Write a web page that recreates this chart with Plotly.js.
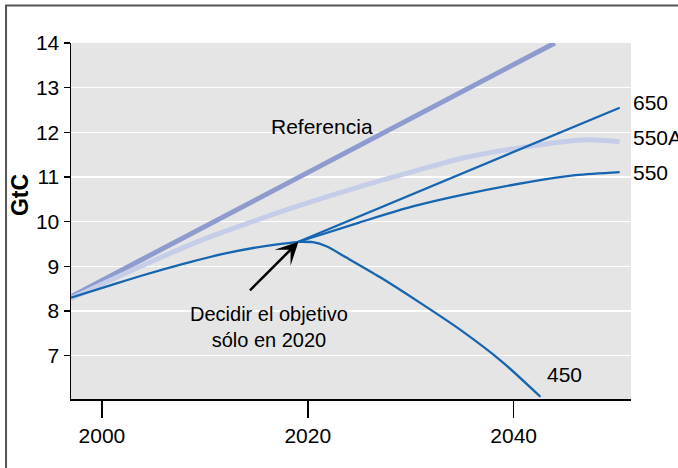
<!DOCTYPE html>
<html>
<head>
<meta charset="utf-8">
<script src="https://cdn.plot.ly/plotly-3.0.1.min.js"></script>
<style>
html,body{margin:0;padding:0;background:#fff;}
#chart{width:678px;height:468px;}
</style>
</head>
<body>
<div id="chart"></div>
<script>
// ---- data ----
const refYears = [1997, 2044];
const refVals = [8.32, 14.0];

const a550Years = [1997, 2003, 2009.5, 2014, 2019.3, 2025, 2030.2, 2035, 2041.3, 2046.7, 2050.3];
const a550Vals  = [8.28, 8.92, 9.57, 9.95, 10.37, 10.78, 11.12, 11.42, 11.68, 11.83, 11.79];

const commonYears = [1997, 2000.5, 2004, 2008, 2012, 2016, 2019.1];
const commonVals  = [8.30, 8.55, 8.80, 9.06, 9.29, 9.46, 9.55];

const p650Years = [2019.1, 2050.3];
const p650Vals  = [9.55, 12.55];

const p550Years = [2019.1, 2025, 2030.2, 2035, 2041.3, 2046, 2050.3];
const p550Vals  = [9.55, 9.98, 10.34, 10.60, 10.88, 11.04, 11.11];

const p450Years = [2019.1, 2020.5, 2021.8, 2023.8, 2027, 2031, 2035, 2038.8, 2042.6];
const p450Vals  = [9.55, 9.54, 9.45, 9.19, 8.76, 8.17, 7.55, 6.88, 6.08];

const xTicks = [2000, 2020, 2040];
const yTicks = [7, 8, 9, 10, 11, 12, 13, 14];

const junction = {year: 2019.1, val: 9.55};

// ---- styling ----
const FONT = "Liberation Sans, Arial, Helvetica, sans-serif";
const BLUE = "#1565b0";

const traces = [
  {x: refYears, y: refVals, mode: "lines", line: {color: "#8e9bcf", width: 5}, hoverinfo: "skip"},
  {x: a550Years, y: a550Vals, mode: "lines", line: {color: "#c6cde8", width: 5, shape: "spline", smoothing: 0.8}, hoverinfo: "skip"},
  {x: commonYears, y: commonVals, mode: "lines", line: {color: BLUE, width: 2.3, shape: "spline", smoothing: 0.8}, hoverinfo: "skip"},
  {x: p650Years, y: p650Vals, mode: "lines", line: {color: BLUE, width: 2.3}, hoverinfo: "skip"},
  {x: p550Years, y: p550Vals, mode: "lines", line: {color: BLUE, width: 2.3, shape: "spline", smoothing: 0.8}, hoverinfo: "skip"},
  {x: p450Years, y: p450Vals, mode: "lines", line: {color: BLUE, width: 2.3, shape: "spline", smoothing: 0.8}, hoverinfo: "skip"}
];

const annFont = {family: FONT, size: 21, color: "#000"};

const layout = {
  width: 678, height: 468,
  margin: {l: 71, r: 47, t: 43, b: 69, pad: 0},
  paper_bgcolor: "#fff",
  plot_bgcolor: "#e5e5e5",
  showlegend: false,
  font: {family: FONT, color: "#000"},
  xaxis: {
    range: [1997.0, 2051.4],
    tickvals: xTicks,
    ticktext: xTicks.map(String),
    ticks: "outside", ticklen: 17, tickwidth: 1.5, tickcolor: "#000",
    showgrid: false, zeroline: false,
    showline: true, linecolor: "#000", linewidth: 2,
    tickfont: {family: FONT, size: 21, color: "#000"}
  },
  yaxis: {
    range: [6.03, 14.0],
    tickvals: yTicks,
    ticktext: yTicks.map(String),
    ticks: "outside", ticklen: 6, tickwidth: 1.5, tickcolor: "#000",
    showgrid: true, gridcolor: "#ffffff", gridwidth: 1.5,
    zeroline: false,
    showline: true, linecolor: "#000", linewidth: 1.5,
    tickfont: {family: FONT, size: 21, color: "#000"}
  },
  shapes: [
    {type: "rect", xref: "paper", yref: "paper",
     x0: -0.116, x1: 1.25, y0: -0.3, y1: 1.105,
     line: {color: "#555", width: 2}, fillcolor: "rgba(0,0,0,0)", layer: "above"}
  ],
  annotations: [
    {x: -0.091, xref: "paper", y: 0.573, yref: "paper", xanchor: "center", yanchor: "middle",
     text: "<b>GtC</b>", textangle: -90,
     showarrow: false, font: {family: FONT, size: 23, color: "#000"}},
    {x: 2021.4, y: 12.12, xref: "x", yref: "y", text: "Referencia", showarrow: false, font: annFont},
    {x: 1, xref: "paper", y: 12.66, yref: "y", xanchor: "left", xshift: 0, text: "650", showarrow: false, font: annFont},
    {x: 1, xref: "paper", y: 11.88, yref: "y", xanchor: "left", xshift: 0, text: "550A", showarrow: false, font: annFont},
    {x: 1, xref: "paper", y: 11.11, yref: "y", xanchor: "left", xshift: 0, text: "550", showarrow: false, font: annFont},
    {x: 2043.0, y: 6.57, xref: "x", yref: "y", xanchor: "left", text: "450", showarrow: false, font: annFont},
    {x: 2016.2, y: 7.64, xref: "x", yref: "y", text: "Decidir el objetivo<br>sólo en 2020", align: "center",
     showarrow: false, font: {family: FONT, size: 20, color: "#000"}},
    {x: junction.year, y: junction.val, xref: "x", yref: "y", text: "", showarrow: true,
     ax: -50, ay: 50, arrowhead: 3, arrowsize: 1.5, arrowwidth: 2.5, arrowcolor: "#000", standoff: 0}
  ]
};

Plotly.newPlot("chart", traces, layout, {staticPlot: true, displayModeBar: false});
</script>
</body>
</html>
